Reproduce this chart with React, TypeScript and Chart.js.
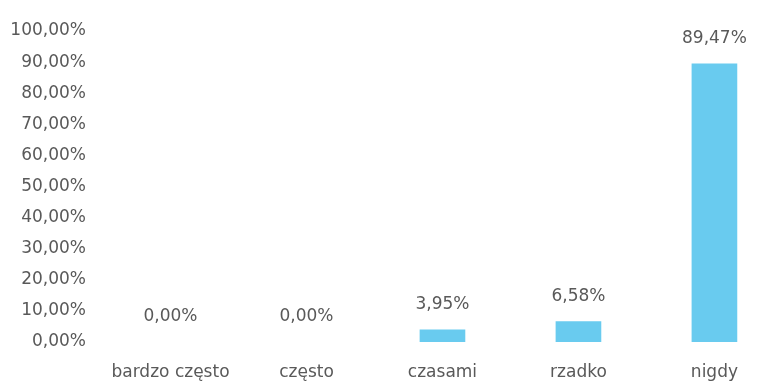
import React, { useEffect, useRef } from "react";
import { Chart, registerables } from "chart.js";

Chart.register(...registerables);

const categories: string[] = ["bardzo często", "często", "czasami", "rzadko", "nigdy"];
const values: number[] = [0, 0, 3.95, 6.58, 89.47];
const yTicks: number[] = [0, 10, 20, 30, 40, 50, 60, 70, 80, 90, 100];

const fmt = (v: number) => v.toFixed(2).replace(".", ",") + "%";

const FONT = "'DejaVu Sans', sans-serif";
const TEXT = "#595959";
const BAR = "#69CBEF";

const valueLabels = {
  id: "valueLabels",
  afterDatasetsDraw(chart: any) {
    const ctx = chart.ctx;
    const meta = chart.getDatasetMeta(0);
    ctx.save();
    ctx.font = `17px ${FONT}`;
    ctx.fillStyle = TEXT;
    ctx.textAlign = "center";
    ctx.textBaseline = "middle";
    meta.data.forEach((bar: any, i: number) => {
      ctx.fillText(fmt(values[i]), bar.x, bar.y - 25);
    });
    ctx.restore();
  },
};

export default function App() {
  const ref = useRef<HTMLCanvasElement | null>(null);

  useEffect(() => {
    if (!ref.current) return;
    const chart = new Chart(ref.current, {
      type: "bar",
      data: {
        datasets: [
          {
            data: categories.map((_, i) => ({ x: i, y: values[i] })),
            backgroundColor: values.map((v) => (v > 0 ? BAR : "rgba(0,0,0,0)")),
            borderWidth: 0,
            barThickness: 45,
          },
        ],
      },
      options: {
        animation: false,
        responsive: true,
        maintainAspectRatio: false,
        layout: { padding: { top: 31, bottom: 6, left: 0, right: 0 } },
        plugins: { legend: { display: false }, tooltip: { enabled: false } },
        scales: {
          x: {
            type: "linear",
            offset: false,
            min: -0.592,
            max: 4.28,
            grid: { display: false, drawTicks: false, offset: false },
            border: { display: false },
            afterFit: (s: any) => {
              s.height = 40;
            },
            ticks: {
              stepSize: 1,
              includeBounds: false,
              autoSkip: false,
              maxRotation: 0,
              padding: 20,
              color: TEXT,
              font: { family: FONT, size: 17 },
              callback: (v: any) => (Number.isInteger(v) && categories[v] !== undefined ? categories[v] : ""),
            },
          },
          y: {
            min: 0,
            max: 100,
            grid: { display: false, drawTicks: false },
            border: { display: false },
            afterFit: (s: any) => {
              s.width = 90;
            },
            afterBuildTicks: (s: any) => {
              s.ticks = yTicks.map((v) => ({ value: v }));
            },
            ticks: {
              autoSkip: false,
              padding: 4,
              color: TEXT,
              font: { family: FONT, size: 17 },
              callback: (v: any) => fmt(Number(v)),
            },
          },
        },
      },
      plugins: [valueLabels],
    });
    return () => chart.destroy();
  }, []);

  return (
    <div style={{ position: "fixed", left: 0, top: 0, width: 758, height: 388, background: "#fff" }}>
      <canvas ref={ref} />
    </div>
  );
}
